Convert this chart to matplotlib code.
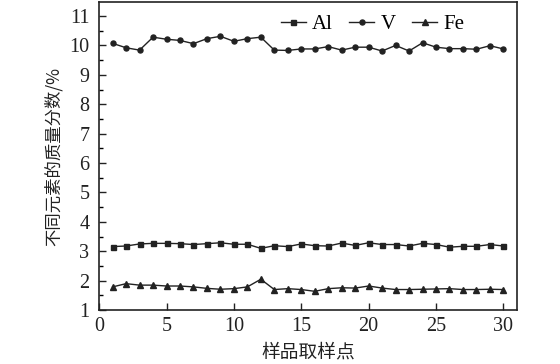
import matplotlib
matplotlib.use("Agg")
import matplotlib.pyplot as plt
from matplotlib.ticker import MultipleLocator

x = list(range(1, 31))
al = [3.16, 3.18, 3.25, 3.27, 3.27, 3.26, 3.23, 3.26, 3.29, 3.24, 3.24, 3.10, 3.19, 3.16, 3.25,
      3.19, 3.18, 3.28, 3.20, 3.29, 3.23, 3.23, 3.18, 3.27, 3.23, 3.14, 3.17, 3.17, 3.23, 3.18]
v = [10.07, 9.92, 9.84, 10.28, 10.21, 10.17, 10.06, 10.23, 10.31, 10.14, 10.23, 10.28, 9.84, 9.83, 9.88,
     9.88, 9.96, 9.84, 9.94, 9.94, 9.81, 10.00, 9.81, 10.09, 9.94, 9.89, 9.89, 9.87, 9.99, 9.88]
fe = [1.79, 1.90, 1.85, 1.85, 1.82, 1.82, 1.79, 1.74, 1.71, 1.73, 1.79, 2.05, 1.70, 1.73, 1.70,
      1.64, 1.73, 1.76, 1.75, 1.82, 1.75, 1.70, 1.70, 1.71, 1.72, 1.73, 1.70, 1.70, 1.71, 1.70]
xticks = [0, 5, 10, 15, 20, 25, 30]
yticks = list(range(1, 12))
xlabel = "样品取样点"
ylabel = "不同元素的质量分数/%"

plt.rcParams['font.family'] = ['Liberation Serif', 'Noto Sans CJK SC']

fig = plt.figure(figsize=(5.6, 3.64), dpi=100)
ax = fig.add_axes([0.177, 0.148, 0.746, 0.846])
c = '#222222'
ax.plot(x, al, '-s', color=c, lw=1.0, ms=3.6, label='Al')
ax.plot(x, v, '-o', color=c, lw=1.0, ms=3.6, label='V')
ax.plot(x, fe, '-^', color=c, lw=1.0, ms=4.0, label='Fe')

ax.set_xlim(0, 31)
ax.set_ylim(1, 11.47)
ax.set_xticks(xticks)
ax.set_yticks(yticks)
ax.yaxis.set_minor_locator(MultipleLocator(0.5))
ax.tick_params(axis='both', which='major', direction='in', length=5, width=1, labelsize=14.5,
               colors='#222222', right=False, top=False)
ax.tick_params(axis='x', which='major', pad=5)
ax.tick_params(axis='y', which='major', pad=7)
ax.tick_params(axis='y', which='minor', direction='in', length=3, width=1)
for s in ax.spines.values():
    s.set_linewidth(1.2)
    s.set_color('#222222')

ax.set_xlabel(xlabel, family=['Noto Sans CJK SC'], fontsize=13.5, labelpad=4, color='#222222')
ax.set_ylabel(ylabel, family=['Noto Sans CJK SC', 'DejaVu Sans'], fontsize=12.5, labelpad=5, color='#222222')

leg = ax.legend(loc='upper right', ncol=3, frameon=False, fontsize=15, handlelength=1.2,
                handletextpad=0.3, columnspacing=0.8, bbox_to_anchor=(0.905, 1.0), borderaxespad=0.2)

fig.savefig('out.png', dpi=100)
